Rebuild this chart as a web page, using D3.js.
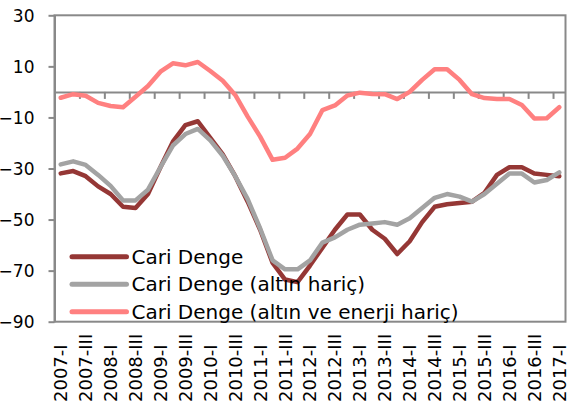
<!DOCTYPE html>
<html>
<head>
<meta charset="utf-8">
<script src="https://cdn.jsdelivr.net/npm/d3@7"></script>
<style>
  body { margin: 0; background: #fff; }
  text { font-family: "DejaVu Sans", sans-serif; fill: #000; }
</style>
</head>
<body>
<div id="chart"></div>
<script>
// quarters 2007-I .. 2017-I
var quarters = [];
var roman = ["I", "II", "III", "IV"];
for (var yr = 2007; yr <= 2017; yr++) {
  for (var q = 0; q < 4; q++) {
    if (yr === 2017 && q > 0) break;
    quarters.push(yr + "-" + roman[q]);
  }
}

var cariDenge = [-31.9, -31, -33, -37, -40, -45, -45.5, -40, -29.5, -19.5,
  -13, -11.5, -18, -24.5, -33, -43, -54, -67, -73.5, -74.5,
  -68, -61, -54, -48, -48, -54, -57.5, -63.5, -58.5, -51,
  -45, -44, -43.5, -43, -39.5, -32.5, -29.5, -29.5, -32, -32.5, -33];

var altinHaric = [-28.4, -27.2, -28.6, -32.5, -36.8, -42.5, -42.5, -38.3, -29.5, -21,
  -16.5, -14.5, -19, -25, -33, -42, -53.5, -66, -69.5, -69.5,
  -66, -59, -57, -54, -52, -51.5, -51, -52, -49.5, -45.5,
  -41.5, -40, -41, -43, -40, -36, -32, -32, -35.5, -34.5, -31.5];

var altinEnerjiHaric = [-2.3, -0.9, -1.5, -4.3, -5.5, -6, -1.9, 2.3, 7.9, 11.2,
  10.4, 11.7, 8.2, 4.4, -1.2, -9.7, -17.5, -26.6, -25.8, -22.2,
  -16.5, -7.1, -5.3, -1.4, -0.3, -0.8, -0.9, -2.8, 0, 4.7,
  8.9, 8.9, 4.7, -0.9, -2.4, -2.8, -2.8, -5.1, -10.4, -10.3, -6];

var yTicks = [30, 10, -10, -30, -50, -70, -90];
var seriesNames = ["Cari Denge", "Cari Denge (altın hariç)", "Cari Denge (altın ve enerji hariç)"];
var seriesColors = ["#953735", "#a3a3a3", "#ff8080"];

var width = 567, height = 408;
var mLeft = 54.5, mRight = 565.5, mTop = 15.3, mBottom = 321.7;
var axisColor = "#898989";

var svg = d3.select("#chart").append("svg")
  .attr("width", width)
  .attr("height", height);

var x = d3.scaleBand().domain(quarters).range([mLeft, mRight]).padding(0);
var xb = d3.scaleLinear().domain([0, quarters.length]).range([mLeft, mRight]);
var y = d3.scaleLinear().domain([-90, 30]).range([mBottom, mTop]);

// frame
svg.append("rect")
  .attr("x", mLeft).attr("y", mTop)
  .attr("width", mRight - mLeft).attr("height", mBottom - mTop)
  .attr("fill", "none")
  .attr("stroke", axisColor)
  .attr("stroke-width", 2);

// y axis
var yAxis = svg.append("g")
  .attr("transform", "translate(" + mLeft + ",0)")
  .call(d3.axisLeft(y).tickValues(yTicks).tickSizeInner(6).tickSizeOuter(0).tickPadding(14));
yAxis.select(".domain").attr("stroke", axisColor).attr("stroke-width", 2);
yAxis.selectAll(".tick line").attr("stroke", axisColor).attr("stroke-width", 2);
yAxis.selectAll(".tick text")
  .style("font-family", "DejaVu Sans, sans-serif")
  .style("font-size", "17px")
  .attr("fill", "#000")
  .attr("dy", "0.36em");

// zero line with tick marks at every second category boundary
var evenIdx = d3.range(0, quarters.length, 2);
var zeroAxis = svg.append("g")
  .attr("transform", "translate(0," + y(0) + ")")
  .call(d3.axisBottom(xb).tickValues(evenIdx).tickFormat("").tickSizeInner(7).tickSizeOuter(0));
zeroAxis.select(".domain").attr("stroke", axisColor).attr("stroke-width", 2);
zeroAxis.selectAll(".tick line").attr("stroke", axisColor).attr("stroke-width", 2);

// category labels at bottom
var labelAxis = svg.append("g")
  .attr("transform", "translate(0," + mBottom + ")")
  .call(d3.axisBottom(x).tickValues(evenIdx.map(function(i) { return quarters[i]; })).tickSize(0));
labelAxis.select(".domain").remove();
labelAxis.selectAll(".tick text")
  .style("font-family", "DejaVu Sans, sans-serif")
  .style("font-size", "18px")
  .attr("fill", "#000")
  .attr("x", 0)
  .attr("y", 0)
  .attr("dy", "0.36em")
  .attr("text-anchor", "start")
  .attr("transform", "translate(0," + (402 - mBottom) + ") rotate(-90)");

// lines
var line = d3.line()
  .x(function(d, i) { return x(quarters[i]) + x.bandwidth() / 2; })
  .y(function(d) { return y(d); });

[cariDenge, altinHaric, altinEnerjiHaric].forEach(function(s, k) {
  svg.append("path")
    .datum(s)
    .attr("fill", "none")
    .attr("stroke", seriesColors[k])
    .attr("stroke-width", 4.5)
    .attr("stroke-linejoin", "round")
    .attr("stroke-linecap", "round")
    .attr("d", line);
});

// legend
var legend = svg.append("g");
var rowY = [256.7, 284.2, 311.7];
seriesNames.forEach(function(name, k) {
  legend.append("line")
    .attr("x1", 72).attr("x2", 126.5)
    .attr("y1", rowY[k]).attr("y2", rowY[k])
    .attr("stroke", seriesColors[k])
    .attr("stroke-width", 5)
    .attr("stroke-linecap", "round");
  legend.append("text")
    .attr("x", 131.5)
    .attr("y", rowY[k])
    .attr("dy", "0.36em")
    .style("font-size", "20px")
    .text(name);
});
</script>
</body>
</html>
